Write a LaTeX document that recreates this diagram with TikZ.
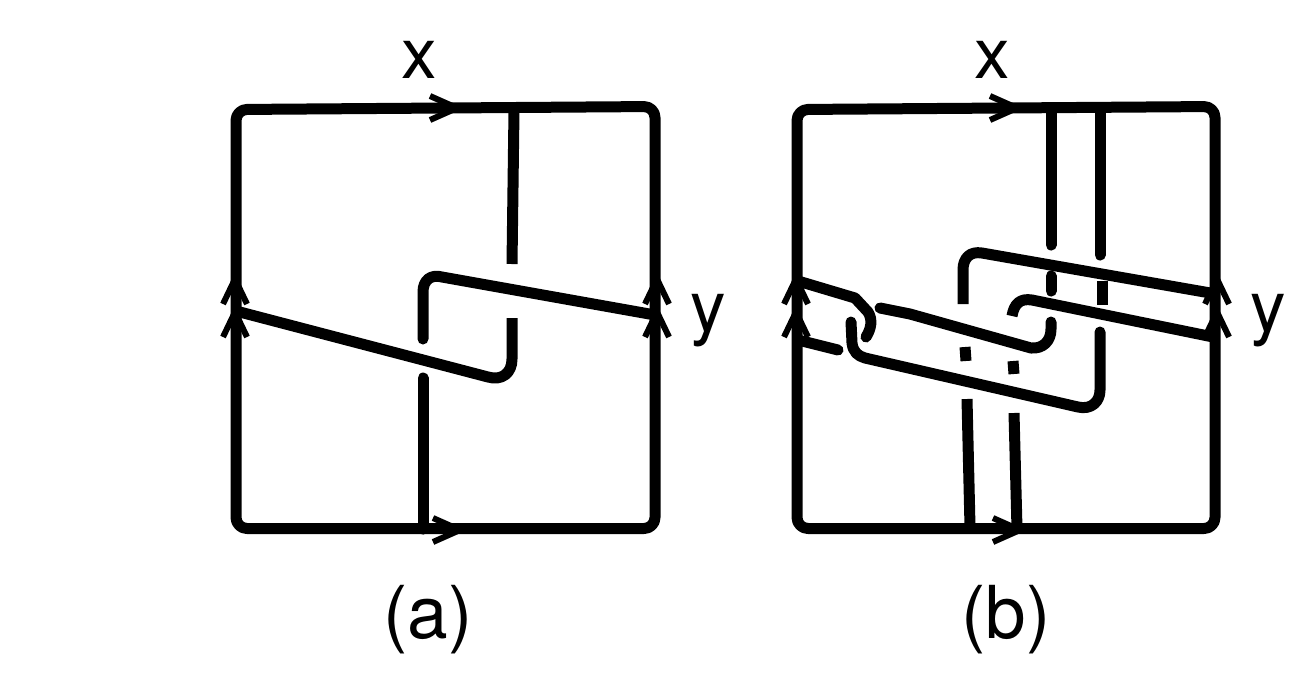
\documentclass[tikz,border=0pt]{standalone}
\usepackage{fontspec}
\setmainfont{TeX Gyre Heros}
\tikzset{
  wire/.style={line width=11pt,line join=round,draw=black},
  rcap/.style={wire,line cap=round},
  frame/.style={wire,rounded corners=11pt},
  chev/.style={line width=6pt,line join=miter,draw=black},
  lab/.style={font=\fontsize{71}{71}\selectfont,inner sep=0pt,text=black},
  capt/.style={font=\fontsize{73}{73}\selectfont,inner sep=0pt,text=black}
}
\newcommand{\chevright}[2]{\draw[chev] (#1-27,#2-12) -- (#1,#2) -- (#1-27,#2+12);}
\newcommand{\chevup}[2]{\draw[chev] (#1-12,#2+25) -- (#1,#2) -- (#1+12,#2+25);}
\begin{document}
\begin{tikzpicture}[x=1pt,y=-1pt]
\useasboundingbox (0,0) rectangle (1297,681);

% left square
\draw[frame] (236,528.5) -- (236,109.5) -- (655,106.5) -- (655,528.5) -- cycle;
\chevright{457}{108}
\chevright{460}{530}
\chevup{235}{279}\chevup{235}{312}
\chevup{657}{279}\chevup{657}{312}
\draw[wire] (514,110) -- (512,264);
\draw[wire] (236,311) -- (488,377) .. controls (502,381) and (512,373) .. (512,359) -- (512,318);
\draw[rcap] (423,529) -- (423,378);
\draw[rcap] (423,339) -- (423,292) .. controls (423,280) and (431,274) .. (442,277) -- (655,315);

% right square
\draw[frame] (797,528.5) -- (797,109.5) -- (1215,106.5) -- (1215,528.5) -- cycle;
\chevright{1017}{108}
\chevright{1020}{530}
\chevup{796}{279}\chevup{796}{312}
\chevup{1217}{279}\chevup{1217}{312}

\draw[wire,line cap=round] (1051,110) -- (1051,245);
\draw[rcap] (1051,276) -- (1051,291);
\draw[wire,line cap=round] (1100,110) -- (1100,255);
\draw[wire] (1102,281) -- (1102,305);

\draw[rcap] (798,281) -- (855,298) -- (868,312) .. controls (873,320) and (871,329) .. (866,337);
\draw[rcap] (798,340) -- (838,350);
\draw[rcap] (851,322) -- (852,343) .. controls (853,352) and (858,356) .. (865,358) -- (1078,407)
  .. controls (1091,410) and (1100,402) .. (1100,390) -- (1100,332);
\draw[rcap] (880,308) -- (910,314) -- (1031,348) .. controls (1043,349) and (1051,341) .. (1051,329) -- (1051,322);
\draw[wire] (963,304) -- (963,270) .. controls (963,258) and (970,251) .. (982,253) -- (1216,294);
\draw[wire] (1012,316) .. controls (1014,304) and (1020,298) .. (1032,300) -- (1218,338);
\draw[wire] (965,347) -- (966,361);
\draw[wire] (1013,361) -- (1014,374);
\draw[wire] (967,399) -- (970,527);
\draw[wire] (1014,413) -- (1017,529);

% labels
\node[lab] (xa) at (419,60) {x};
\node[lab] (ya) at (708,321) {y};
\node[lab] (xb) at (992,60) {x};
\node[lab] (yb) at (1268,321) {y};
\node[capt] (ca) at (428,620) {(a)};
\node[capt] (cb) at (1006,620) {(b)};
\end{tikzpicture}
\end{document}
